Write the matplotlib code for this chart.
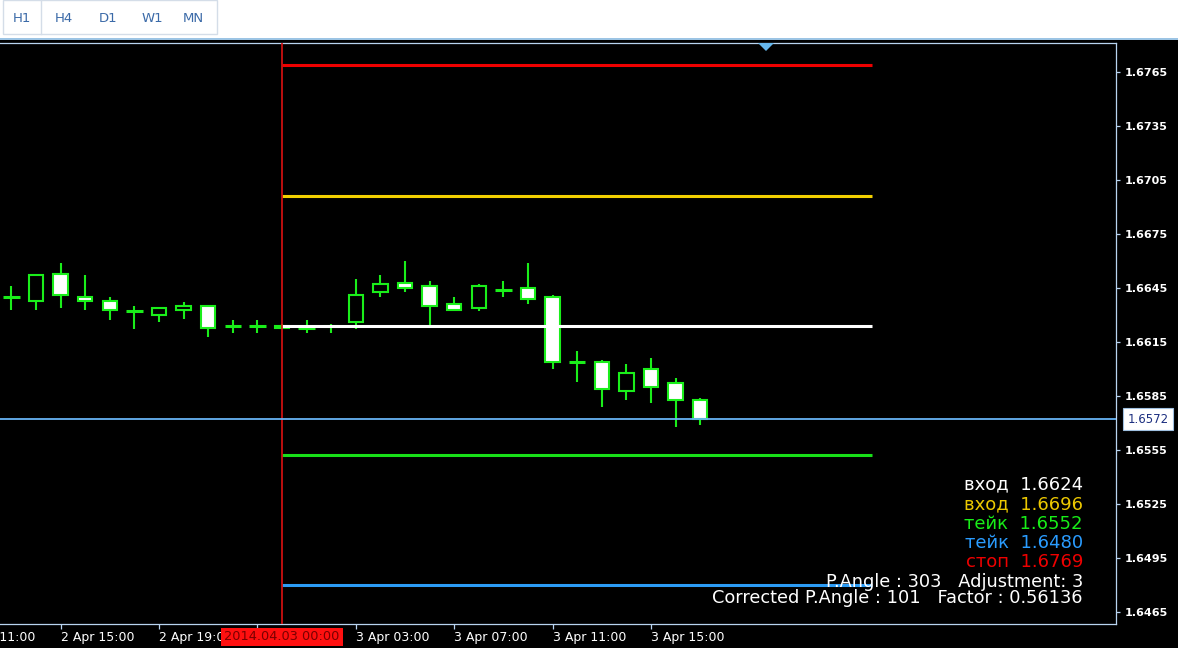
import matplotlib
matplotlib.use('Agg')
import matplotlib.pyplot as plt  # noqa E402
from matplotlib.patches import Rectangle, Polygon  # noqa E402
from matplotlib.lines import Line2D  # noqa E402
from matplotlib.transforms import blended_transform_factory  # noqa E402
import numpy as np  # noqa E402
import pandas as pd  # noqa E402

# H1 bars, 2 Apr 13:00 .. 3 Apr 17:00
bar_times = pd.date_range('2014-04-02 13:00', '2014-04-03 17:00', freq='h')
opens = [1.6640, 1.6638, 1.6653, 1.6640, 1.6638, 1.6632, 1.6630, 1.6633,
         1.6635, 1.6624, 1.6624, 1.6624, 1.6623, 1.6624, 1.6626, 1.6643,
         1.6648, 1.6646, 1.6636, 1.6634, 1.6644, 1.6645, 1.6640, 1.6604,
         1.6604, 1.6588, 1.6600, 1.6592, 1.6583]
highs = [1.6646, 1.6653, 1.6659, 1.6652, 1.6640, 1.6635, 1.6634, 1.6637,
         1.6635, 1.6627, 1.6627, 1.6625, 1.6627, 1.6625, 1.6650, 1.6652,
         1.6660, 1.6649, 1.6640, 1.6647, 1.6649, 1.6659, 1.6641, 1.6610,
         1.6605, 1.6603, 1.6606, 1.6595, 1.6584]
lows = [1.6633, 1.6633, 1.6634, 1.6633, 1.6627, 1.6622, 1.6626, 1.6628,
        1.6618, 1.6620, 1.6620, 1.6622, 1.6620, 1.6620, 1.6622, 1.6640,
        1.6643, 1.6623, 1.6633, 1.6632, 1.6640, 1.6636, 1.6600, 1.6593,
        1.6579, 1.6583, 1.6581, 1.6568, 1.6569]
closes = [1.6640, 1.6652, 1.6641, 1.6638, 1.6633, 1.6632, 1.6634, 1.6635,
          1.6623, 1.6624, 1.6624, 1.6623, 1.6623, 1.6624, 1.6641, 1.6647,
          1.6645, 1.6635, 1.6633, 1.6646, 1.6644, 1.6639, 1.6604, 1.6604,
          1.6589, 1.6598, 1.6590, 1.6583, 1.6572]

# levels drawn from 3 Apr 00:00 for 24 hours
level_names = ['вход', 'вход', 'тейк', 'тейк', 'стоп']
level_values = [1.6624, 1.6696, 1.6552, 1.6480, 1.6769]
level_colors = ['#ffffff', '#f2d000', '#18e018', '#2c9cf5', '#ee0000']
text_colors = ['#ffffff', '#ecc800', '#18ee18', '#2a9cff', '#ee0000']

current_price = 1.6572
p_angle = 303
adjustment = 3
corrected_angle = 101
factor = 0.56136

price_ticks = [1.6765, 1.6735, 1.6705, 1.6675, 1.6645, 1.6615,
               1.6585, 1.6555, 1.6525, 1.6495, 1.6465]
tick_times = pd.date_range('2014-04-02 11:00', '2014-04-03 15:00', freq='4h')
anchor = pd.Timestamp('2014-04-03 00:00')
timeframes = ['H1', 'H4', 'D1', 'W1', 'MN']

W, H = 1178, 648
GREEN = '#1aee1a'
FRAME = '#b8d4f0'


def fx(px):
    return px / W


def fy(py):
    return 1 - py / H


fig = plt.figure(figsize=(W / 100, H / 100), dpi=100, facecolor='black')
ax = fig.add_axes([0, fy(624), fx(1116), (624 - 43) / H], facecolor='black')

hrs = pd.Timedelta(hours=1)
x = np.asarray((bar_times - anchor) / hrs, dtype=float)
o = np.array(opens)
c = np.array(closes)
hi = np.array(highs)
lo = np.array(lows)
doji = np.isclose(o, c)
bull = c > o

# candles
ax.vlines(x, lo, hi, color=GREEN, lw=1.5, zorder=2)
body = ~doji
ax.bar(x[body], np.abs(c - o)[body], bottom=np.minimum(o, c)[body],
       width=0.58, color=np.where(bull, 'black', 'white')[body],
       edgecolor=GREEN, lw=1.5, zorder=3)
ax.hlines(c[doji], x[doji] - 0.33, x[doji] + 0.33, color=GREEN, lw=2.2,
          zorder=3)

# level lines, vertical marker and current price
ax.hlines(level_values, 0, 24, colors=level_colors, lw=2.2, zorder=4)
ax.axvline(0, color='#dd1111', lw=1.2, zorder=4)
ax.axhline(current_price, color='#68b4f4', lw=1.3, zorder=4)

ax.set_xlim(-282 / 24.6, (1116 - 282) / 24.6)
ax.set_ylim(1.6765 - (624 - 72) / 18000, 1.6765 + (72 - 43) / 18000)

for s in ['top', 'right', 'bottom']:
    ax.spines[s].set_color(FRAME)
    ax.spines[s].set_linewidth(0.9)
ax.spines['left'].set_visible(False)

ax.yaxis.tick_right()
ax.set_yticks(price_ticks)
ax.set_yticklabels([f'{p:.4f}' for p in price_ticks])
ax.tick_params(axis='y', colors=FRAME, labelcolor='white', length=3,
               width=0.9, pad=3, labelsize=8)
for lab in ax.get_yticklabels():
    lab.set_fontweight('bold')

tick_hours = np.asarray((tick_times - anchor) / hrs, dtype=float)
lo_x, hi_x = ax.get_xlim()
ax.set_xticks([t for t in tick_hours if lo_x <= t <= hi_x])
ax.set_xticklabels([])
ax.tick_params(axis='x', colors=FRAME, length=3.5, width=0.9)

# time labels; the one hidden under the red date box is skipped
trans = blended_transform_factory(ax.transData, fig.transFigure)
for t, hx in zip(tick_times, tick_hours):
    if -2 < hx < 2:
        continue
    ax.text(hx, fy(637), f'{t.day} {t:%b %H:%M}', transform=trans,
            ha='left', va='center', color='white', fontsize=9, clip_on=False)
ax.text(0, fy(637), f'{anchor:%Y.%m.%d %H:%M}', transform=trans,
        ha='center', va='center', color='#7a0000', fontsize=9.3, zorder=6,
        bbox=dict(boxstyle='square,pad=0.22', fc='#ff1010', ec='none'),
        clip_on=False)

ptrans = blended_transform_factory(ax.transAxes, ax.transData)
ax.text(1148 / 1116, current_price, f'{current_price:.4f}', transform=ptrans,
        ha='center', va='center', color='#1c2f80', fontsize=8.5, zorder=6,
        bbox=dict(boxstyle='square,pad=0.38', fc='white', ec='#a0c0e0',
                  lw=0.8), clip_on=False)

# info block, bottom right
baselines = [489, 509, 529, 548, 567]
for name, val, col, yb in zip(level_names, level_values, text_colors,
                              baselines):
    fig.text(fx(1083), fy(yb), f'{name}  {val:.4f}', color=col,
             fontsize=13, ha='right', va='baseline')
fig.text(fx(1083), fy(587), f'P.Angle : {p_angle}   Adjustment: {adjustment}',
         color='white', fontsize=12.8, ha='right', va='baseline')
fig.text(fx(1083), fy(603),
         f'Corrected P.Angle : {corrected_angle}   Factor : {factor}',
         color='white', fontsize=12.8, ha='right', va='baseline')

# top toolbar strip
fig.patches.append(Rectangle((0, fy(37.5)), 1, 37.5 / H,
                             transform=fig.transFigure, fc='white',
                             ec='none', zorder=1))
fig.patches.append(Rectangle((0, fy(40)), 1, 2.5 / H,
                             transform=fig.transFigure, fc='#9cc4e4',
                             ec='none', zorder=1))
fig.patches.append(Rectangle((fx(3), fy(34)), fx(214), 34 / H,
                             transform=fig.transFigure, fc='none',
                             ec='#d4dde8', lw=1, zorder=2))
fig.lines.append(Line2D([fx(41), fx(41)], [fy(0), fy(34)],
                        transform=fig.transFigure, color='#d4dde8', lw=1))
for name, cx in zip(timeframes, [22, 64, 108, 152, 193]):
    fig.text(fx(cx), fy(19), name, color='#3b6aa8', fontsize=9.5,
             ha='center', va='center')

# chart shift marker
fig.patches.append(Polygon([(fx(758), fy(43)), (fx(774), fy(43)),
                            (fx(766), fy(51))], closed=True,
                           transform=fig.transFigure, fc='#66b8ee',
                           ec='none', zorder=5))

fig.savefig('out.png', dpi=100, facecolor='black')
plt.close(fig)
